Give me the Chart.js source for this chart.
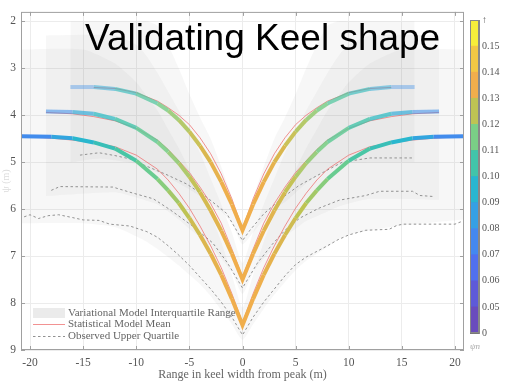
<!DOCTYPE html>
<html>
<head>
<meta charset="utf-8">
<script src="https://cdn.jsdelivr.net/npm/chart.js@4"></script>
<style>
  html, body { margin: 0; padding: 0; background: #fff; }
  #wrap { position: relative; width: 506px; height: 382px; }
  #main { position: absolute; left: 0; top: 0; }
  #bar { position: absolute; left: 462px; top: 0; }
</style>
</head>
<body>
<div id="wrap">
  <canvas id="main" width="506" height="382"></canvas>
  <canvas id="bar" width="44" height="382"></canvas>
</div>
<script>
// axis ticks
const xTicks = [-20, -15, -10, -5, 0, 5, 10, 15, 20];
const yTicks = [2, 3, 4, 5, 6, 7, 8, 9];

// keel shapes (thick coloured lines), three widths
const xA = [-21, -18, -16, -14, -12, -10, -8, -7, -6, -5, -4, -3, -2, -1, 0, 1, 2, 3, 4, 5, 6, 7, 8, 10, 12, 14, 16, 18, 21];
const yA = [4.45, 4.46, 4.49, 4.58, 4.71, 4.97, 5.36, 5.60, 5.87, 6.19, 6.55, 6.95, 7.40, 7.91, 8.47, 7.91, 7.40, 6.95, 6.55, 6.19, 5.87, 5.60, 5.36, 4.97, 4.71, 4.58, 4.49, 4.46, 4.45];
const psiA = [0.07, 0.083, 0.092, 0.099, 0.104, 0.109, 0.115, 0.119, 0.123, 0.127, 0.13, 0.132, 0.134, 0.135, 0.135, 0.135, 0.134, 0.132, 0.13, 0.127, 0.123, 0.119, 0.115, 0.109, 0.104, 0.099, 0.092, 0.083, 0.07];

const xB = [-18.5, -16, -14, -12, -10, -8, -7, -6, -5, -4, -3, -2, -1, 0, 1, 2, 3, 4, 5, 6, 7, 8, 10, 12, 14, 16, 18.5];
const yB = [3.92, 3.93, 3.97, 4.08, 4.27, 4.57, 4.78, 5.02, 5.31, 5.64, 6.03, 6.46, 6.95, 7.50, 6.95, 6.46, 6.03, 5.64, 5.31, 5.02, 4.78, 4.57, 4.27, 4.08, 3.97, 3.93, 3.92];
const psiB = [0.072, 0.085, 0.095, 0.102, 0.108, 0.113, 0.117, 0.12, 0.124, 0.128, 0.131, 0.133, 0.135, 0.135, 0.135, 0.133, 0.131, 0.128, 0.124, 0.12, 0.117, 0.113, 0.108, 0.102, 0.095, 0.085, 0.072];

const xC = [-16.2, -14, -12, -10, -8, -7, -6, -5, -4, -3, -2, -1, 0, 1, 2, 3, 4, 5, 6, 7, 8, 10, 12, 14, 16.2];
const yC = [3.40, 3.40, 3.44, 3.54, 3.75, 3.90, 4.10, 4.35, 4.65, 5.00, 5.42, 5.90, 6.45, 5.90, 5.42, 5.00, 4.65, 4.35, 4.10, 3.90, 3.75, 3.54, 3.44, 3.40, 3.40];
const psiC = [0.072, 0.085, 0.096, 0.104, 0.112, 0.117, 0.121, 0.125, 0.129, 0.132, 0.134, 0.135, 0.135, 0.135, 0.134, 0.132, 0.129, 0.125, 0.121, 0.117, 0.112, 0.104, 0.096, 0.085, 0.072];

// statistical model mean (red)
const meanA = [4.45, 4.49, 4.53, 4.59, 4.67, 4.85, 5.15, 5.38, 5.66, 5.98, 6.36, 6.78, 7.25, 7.80, 8.42, 7.80, 7.25, 6.78, 6.36, 5.98, 5.66, 5.38, 5.15, 4.85, 4.67, 4.59, 4.53, 4.49, 4.45];
const meanB = [3.94, 3.97, 4.03, 4.12, 4.28, 4.53, 4.73, 4.97, 5.22, 5.53, 5.88, 6.30, 6.85, 7.45, 6.85, 6.30, 5.88, 5.53, 5.22, 4.97, 4.73, 4.53, 4.28, 4.12, 4.03, 3.97, 3.94];
const xMeanC = [-14, -12, -10, -8, -7, -6, -5, -4, -3, -2, -1, 0, 1, 2, 3, 4, 5, 6, 7, 8, 10, 12, 14];
const meanC = [3.41, 3.43, 3.52, 3.70, 3.84, 4.00, 4.20, 4.48, 4.82, 5.25, 5.78, 6.42, 5.78, 5.25, 4.82, 4.48, 4.20, 4.00, 3.84, 3.70, 3.52, 3.43, 3.41];

// observed upper quartile (dashed)
const xObsA = [-21, -20, -19.2, -18.3, -17.3, -16, -15, -13.5, -12.5, -10.6, -9, -8, -7, -6, -5, -4, -3, -2, -1, 0, 1, 2, 3, 4, 5, 6, 7, 8, 9, 10, 11.6, 13.8, 14.5, 15.1, 20, 21];
const obsA = [6.20, 6.12, 6.20, 6.14, 6.12, 6.18, 6.23, 6.24, 6.32, 6.36, 6.48, 6.60, 6.78, 6.98, 7.20, 7.45, 7.70, 7.98, 8.30, 8.68, 8.30, 7.98, 7.70, 7.42, 7.18, 7.02, 6.90, 6.78, 6.65, 6.55, 6.45, 6.43, 6.35, 6.32, 6.32, 6.23];
const xObsB = [-18, -17.2, -12.2, -10.6, -8.4, -6.9, -4.7, -2.8, -1.4, 0, 1.4, 2.8, 4, 5.4, 7.2, 9.1, 11.6, 12.9, 16, 16.7, 17.9];
const obsB = [5.60, 5.52, 5.53, 5.64, 5.78, 6.00, 6.36, 6.72, 7.15, 7.68, 7.15, 6.75, 6.45, 6.19, 5.98, 5.81, 5.71, 5.62, 5.62, 5.71, 5.73];
const xObsC = [-15.3, -13.5, -12, -10.6, -9.4, -7.2, -5.3, -3.4, -1.5, 0, 0.7, 2, 3.8, 5.3, 6.9, 9.4, 12, 16];
const obsC = [4.85, 4.80, 4.86, 4.93, 5.05, 5.26, 5.46, 5.74, 6.09, 6.67, 6.45, 6.10, 5.75, 5.50, 5.30, 5.00, 4.91, 4.91];

// variational model interquartile range (grey bands)
const xBandA = [-21, -15, -12, -10, -9, -8, -7, -6, -5, -4, -3, -2, -1, 0, 1, 2, 3, 4, 5, 6, 7, 8, 9, 10, 12, 15, 21];
const bandAUp = [2.6, 2.6, 2.9, 3.3, 3.6, 3.9, 4.3, 4.7, 5.15, 5.6, 6.1, 6.7, 7.4, 8.1, 7.4, 6.7, 6.1, 5.6, 5.15, 4.7, 4.3, 3.9, 3.6, 3.3, 2.9, 2.6, 2.6];
const bandALo = [6.30, 6.30, 6.38, 6.58, 6.70, 6.85, 7.02, 7.20, 7.40, 7.60, 7.85, 8.15, 8.45, 8.78, 8.45, 8.12, 7.82, 7.55, 7.30, 7.10, 6.95, 6.80, 6.65, 6.55, 6.45, 6.35, 6.22];
const xBandB = [-18.5, -12, -10, -9, -8, -7, -6, -5, -4, -3, -2, -1, 0, 1, 2, 3, 4, 5, 6, 7, 8, 9, 10, 12, 18.5];
const bandBUp = [2.3, 2.3, 2.5, 2.75, 3.1, 3.5, 3.9, 4.35, 4.8, 5.35, 5.9, 6.5, 7.15, 6.5, 5.9, 5.35, 4.8, 4.35, 3.9, 3.5, 3.1, 2.75, 2.5, 2.3, 2.3];
const bandBLo = [5.72, 5.64, 5.75, 5.82, 5.90, 6.05, 6.22, 6.42, 6.60, 6.80, 7.05, 7.35, 7.80, 7.35, 7.05, 6.82, 6.58, 6.42, 6.25, 6.15, 6.05, 5.95, 5.88, 5.78, 5.80];
const xBandC = [-16.2, -13.5, -12, -10, -9, -8, -7, -6, -5, -4, -3, -2, -1, 0, 1, 2, 3, 4, 5, 6, 7, 8, 9, 10, 12, 13.5, 16.2];
const bandCUp = [2.0, 2.0, 2.0, 2.0, 2.0, 2.1, 2.5, 3.0, 3.55, 4.05, 4.5, 5.1, 5.75, 6.45, 5.75, 5.1, 4.5, 4.05, 3.55, 3.0, 2.5, 2.1, 2.0, 2.0, 2.0, 2.0, 2.0];
const bandCLo = [5.00, 4.92, 4.96, 5.04, 5.12, 5.22, 5.32, 5.45, 5.58, 5.72, 5.88, 6.05, 6.30, 6.75, 6.50, 6.22, 6.00, 5.85, 5.65, 5.45, 5.30, 5.15, 5.06, 5.02, 5.00, 5.00, 5.00];

// colour bar
const cbLabels = ['0', '0.05', '0.06', '0.07', '0.08', '0.09', '0.10', '0.11', '0.12', '0.13', '0.14', '0.15', '\u2191'];
const cbColors = ['#6a4cbd', '#5e5ad8', '#5170ee', '#4488ef', '#35a0e4', '#28b6d0', '#42c4aa', '#7acf86', '#bec353', '#f0ae4c', '#f2c844', '#f7ee3a'];

const legendLabels = ['Variational Model Interquartile Range', 'Statistical Model Mean', 'Observed Upper Quartile'];

const serif = '"Liberation Serif", "Times New Roman", serif';

function pts(xs, ys) {
  return xs.map((x, i) => ({ x: x, y: ys[i] }));
}

function hexRgb(h) {
  return [parseInt(h.slice(1, 3), 16), parseInt(h.slice(3, 5), 16), parseInt(h.slice(5, 7), 16)];
}

// continuous colour between the colour bar bins
function psiColor(v, fade) {
  let f = v < 0.05 ? 0 : (v - 0.05) * 100 + 0.5;
  f = Math.max(0, Math.min(cbColors.length - 1, f));
  const i = Math.floor(f), j = Math.min(cbColors.length - 1, i + 1), t = f - i;
  const a = hexRgb(cbColors[i]), b = hexRgb(cbColors[j]);
  const c = a.map((ai, k) => Math.round(ai + (b[k] - ai) * t));
  const alpha = fade + (1 - fade) * Math.max(0, Math.min(1, (v - 0.075) / 0.055));
  return 'rgba(' + c[0] + ',' + c[1] + ',' + c[2] + ',' + alpha.toFixed(2) + ')';
}

function keel(xs, ys, psi, fade) {
  return {
    data: pts(xs, ys), borderWidth: 4, pointRadius: 0, tension: 0, order: 1,
    borderColor: psiColor(psi[0], fade),
    segment: { borderColor: c => psiColor((psi[c.p0DataIndex] + psi[c.p1DataIndex]) / 2, fade) }
  };
}

function mean(xs, ys) {
  return { data: pts(xs, ys), borderColor: 'rgba(238,110,110,0.75)', borderWidth: 1, pointRadius: 0, tension: 0, order: 2 };
}

function observed(xs, ys) {
  return { data: pts(xs, ys), borderColor: '#919191', borderWidth: 1, borderDash: [2.5, 2.5], pointRadius: 0, tension: 0, order: 3 };
}

const bandFill = 'rgba(140,140,140,0.07)';
function band(xs, up, lo) {
  return [
    { data: pts(xs, up), fill: '+1', backgroundColor: bandFill, borderColor: 'transparent', borderWidth: 0, pointRadius: 0, tension: 0.2, order: 5 },
    { data: pts(xs, lo), fill: false, borderColor: 'transparent', borderWidth: 0, pointRadius: 0, tension: 0.2, order: 5 }
  ];
}

const framePlugin = {
  id: 'frame',
  afterDraw(chart) {
    const { ctx, chartArea: a, scales } = chart;
    ctx.save();
    ctx.strokeStyle = '#a0a0a0';
    ctx.lineWidth = 1;
    ctx.strokeRect(a.left + 0.5, a.top + 0.5, a.right - a.left - 1, a.bottom - a.top - 1);
    ctx.beginPath();
    xTicks.forEach(v => {
      const px = Math.round(scales.x.getPixelForValue(v)) + 0.5;
      ctx.moveTo(px, a.bottom); ctx.lineTo(px, a.bottom - 4);
      ctx.moveTo(px, a.top); ctx.lineTo(px, a.top + 4);
    });
    yTicks.forEach(v => {
      const py = Math.round(scales.y.getPixelForValue(v)) + 0.5;
      ctx.moveTo(a.left, py); ctx.lineTo(a.left + 4, py);
      ctx.moveTo(a.right, py); ctx.lineTo(a.right - 4, py);
    });
    ctx.stroke();
    ctx.restore();
  }
};

const overlayPlugin = {
  id: 'overlay',
  afterDraw(chart) {
    const { ctx, chartArea: a } = chart;
    ctx.save();
    // legend
    const x0 = a.left + 12, rows = [a.bottom - 37, a.bottom - 26, a.bottom - 14];
    ctx.fillStyle = '#ebebeb';
    ctx.fillRect(x0, rows[0] - 5, 32, 10);
    ctx.strokeStyle = 'rgba(238,110,110,0.75)';
    ctx.beginPath(); ctx.moveTo(x0, rows[1] + 0.5); ctx.lineTo(x0 + 32, rows[1] + 0.5); ctx.stroke();
    ctx.strokeStyle = '#919191';
    ctx.setLineDash([2.5, 2.5]);
    ctx.beginPath(); ctx.moveTo(x0, rows[2] + 0.5); ctx.lineTo(x0 + 32, rows[2] + 0.5); ctx.stroke();
    ctx.setLineDash([]);
    ctx.fillStyle = '#666';
    ctx.font = '11px ' + serif;
    ctx.textBaseline = 'middle';
    legendLabels.forEach((t, i) => ctx.fillText(t, x0 + 35, rows[i]));
    // title
    ctx.fillStyle = '#000';
    ctx.font = '37px "Liberation Sans", Arial, sans-serif';
    ctx.textBaseline = 'alphabetic';
    ctx.fillText('Validating Keel shape', 85, 50);
    ctx.restore();
  }
};

const datasets = [
  keel(xA, yA, psiA, 1),
  keel(xB, yB, psiB, 0.55),
  keel(xC, yC, psiC, 0.35),
  mean(xA, meanA),
  mean(xB, meanB),
  mean(xMeanC, meanC),
  observed(xObsA, obsA),
  observed(xObsB, obsB),
  observed(xObsC, obsC),
  ...band(xBandA, bandAUp, bandALo),
  ...band(xBandB, bandBUp, bandBLo),
  ...band(xBandC, bandCUp, bandCLo)
];

new Chart(document.getElementById('main'), {
  type: 'line',
  data: { datasets: datasets },
  options: {
    responsive: false,
    animation: false,
    layout: { padding: { top: 3, right: 42, left: 0, bottom: 0 } },
    scales: {
      x: {
        type: 'linear', min: -20.85, max: 20.85,
        afterBuildTicks: s => { s.ticks = xTicks.map(v => ({ value: v })); },
        afterFit: s => { s.height = 32; },
        grid: { color: '#ececec', drawTicks: false },
        border: { display: false },
        ticks: { padding: 6, maxRotation: 0, autoSkip: false, color: '#555', font: { family: serif, size: 11.5 } },
        title: { display: true, text: 'Range in keel width from peak (m)', color: '#666', padding: 0, font: { family: serif, size: 12 } }
      },
      y: {
        type: 'linear', min: 1.8, max: 9, reverse: true,
        afterBuildTicks: s => { s.ticks = yTicks.map(v => ({ value: v })); },
        afterFit: s => { s.width = 21; },
        grid: { color: '#ececec', drawTicks: false },
        border: { display: false },
        ticks: { padding: 5, color: '#555', font: { family: serif, size: 11.5 } },
        title: { display: true, text: '\u03c8 (m)', color: '#dcdcdc', padding: 0, font: { family: serif, size: 10 } }
      }
    },
    plugins: { legend: { display: false }, tooltip: { enabled: false } }
  },
  plugins: [framePlugin, overlayPlugin]
});

// colour bar as a stacked bar of equal bins
new Chart(document.getElementById('bar'), {
  type: 'bar',
  data: {
    labels: [''],
    datasets: cbColors.map(c => ({ data: [1], backgroundColor: c, borderWidth: 0, barPercentage: 1, categoryPercentage: 1 }))
  },
  options: {
    responsive: false,
    animation: false,
    layout: { padding: { left: 8, top: 20, bottom: 49, right: 0 } },
    scales: {
      x: { display: false, stacked: true },
      y: {
        stacked: true, min: 0, max: 12, position: 'right',
        afterBuildTicks: s => { s.ticks = cbLabels.map((t, i) => ({ value: i })); },
        afterFit: s => { s.width = 27; },
        grid: { color: 'rgba(30,30,30,0.6)', drawTicks: false },
        border: { color: '#888' },
        ticks: { padding: 3, color: '#555', callback: (v, i) => cbLabels[i], font: { family: serif, size: 10 } }
      }
    },
    plugins: { legend: { display: false }, tooltip: { enabled: false } }
  },
  plugins: [{
    id: 'cbLabel',
    afterDraw(chart) {
      const { ctx, chartArea: a } = chart;
      ctx.save();
      ctx.strokeStyle = '#888';
      ctx.strokeRect(a.left + 0.5, a.top + 0.5, a.right - a.left - 1, a.bottom - a.top - 1);
      ctx.fillStyle = '#aaa';
      ctx.font = 'italic 9px ' + serif;
      ctx.textBaseline = 'middle';
      ctx.fillText('\u03c8n', a.left, a.bottom + 14);
      ctx.restore();
    }
  }]
});
</script>
</body>
</html>
